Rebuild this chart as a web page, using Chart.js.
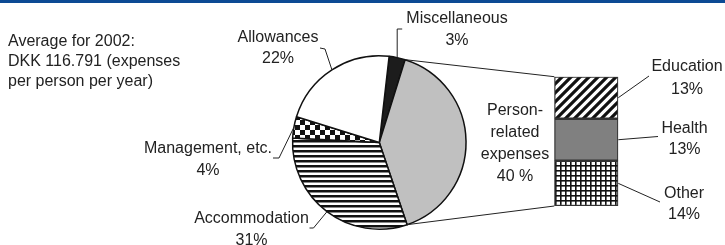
<!DOCTYPE html>
<html><head><meta charset="utf-8">
<script src="https://cdn.jsdelivr.net/npm/chart.js@4.4.1/dist/chart.umd.min.js"></script>
<style>
html,body{margin:0;padding:0;background:#fff;}
#wrap{position:relative;width:725px;height:245px;overflow:hidden;background:#fff;}
#topbar{position:absolute;left:0;top:0;width:725px;height:3px;background:#0c4a94;}
canvas{position:absolute;left:0;top:0;}
</style></head><body>
<div id="wrap">
<canvas id="pie" width="725" height="245"></canvas>
<canvas id="bar" width="725" height="245"></canvas>
<div id="topbar"></div>
</div>
<script>
// ---- data ----
const categories = ['Miscellaneous', 'Person-related expenses', 'Accommodation', 'Management, etc.', 'Allowances'];
const shares = [3, 40, 31, 4, 22];
const subCategories = ['Other', 'Health', 'Education'];
const subShares = [14, 13, 13];
const noteLines = ['Average for 2002:', 'DKK 116.791 (expenses', 'per person per year)'];

// ---- patterns ----
function makePattern(w, h, draw) {
  const c = document.createElement('canvas');
  c.width = w; c.height = h;
  const g = c.getContext('2d');
  g.fillStyle = '#fff'; g.fillRect(0, 0, w, h);
  draw(g, w, h);
  return g.createPattern(c, 'repeat');
}
const patHStripes = makePattern(5, 5, (g, w) => { g.fillStyle = '#111'; g.fillRect(0, 0, w, 2.5); });
const patChecker = makePattern(10, 10, (g) => { g.fillStyle = '#111'; g.fillRect(0, 0, 5, 5); g.fillRect(5, 5, 5, 5); });
const patDiag = makePattern(9, 9, (g, s) => {
  g.strokeStyle = '#111'; g.lineWidth = 3.2; g.lineCap = 'square';
  g.beginPath();
  g.moveTo(-2, s + 2); g.lineTo(s + 2, -2);
  g.moveTo(-2, 2); g.lineTo(2, -2);
  g.moveTo(s - 2, s + 2); g.lineTo(s + 2, s - 2);
  g.stroke();
});
const patGrid = makePattern(5, 5, (g, w, h) => { g.fillStyle = '#111'; g.fillRect(0, 0, w, 1.6); g.fillRect(0, 0, 1.6, h); });

const pieFills = ['#1c1c1c', '#c0c0c0', patHStripes, patChecker, '#ffffff'];
const barFills = [patGrid, '#808080', patDiag];

const FONT = '16px "Liberation Sans", Arial, Helvetica, sans-serif';
const TEXT = '#222';

// ---- pie ----
const pieChart = new Chart(document.getElementById('pie'), {
  type: 'pie',
  data: {
    labels: categories,
    datasets: [{
      data: shares,
      backgroundColor: pieFills,
      borderColor: '#111',
      borderWidth: 1.5,
      hoverOffset: 0
    }]
  },
  options: {
    responsive: false,
    devicePixelRatio: 1,
    animation: false,
    events: [],
    rotation: 6.5,
    layout: { padding: { left: 291.8, right: 258.2, top: 55, bottom: 15 } },
    plugins: { legend: { display: false }, tooltip: { enabled: false } }
  }
});

// ---- label layout (positions only) ----
const pieLabelLayout = [
  { cx: 457, ys: [22.5, 44.5], leader: (p) => [[p.x, 29], [p.x + 5, 29]] },
  { cx: 515, ys: [115, 137, 159, 180.5], leader: null },
  { cx: 251.5, ys: [223, 245], leader: () => [[313.5, 228], [309.5, 228]] },
  { cx: 208, ys: [153, 175], leader: () => [[279, 158], [273, 158]] },
  { cx: 278, ys: [42, 63], leader: () => [[325, 49], [320, 48]] }
];
const barLabelLayout = [
  { cx: 684, ys: [197.5, 219], end: [660, 202] },
  { cx: 684.5, ys: [132.5, 153.5], end: [658, 136.5] },
  { cx: 687, ys: [71, 93.5], end: [649, 76] }
];

function pieLabelLines(i) {
  if (i === 1) return ['Person-', 'related', 'expenses', shares[i] + ' %'];
  return [categories[i], shares[i] + '%'];
}

const overlay = {
  id: 'overlay',
  afterDraw(chart) {
    const ctx = chart.ctx;
    ctx.save();
    ctx.strokeStyle = '#222';
    ctx.lineWidth = 1;
    const arcs = pieChart.getDatasetMeta(0).data;
    const pt = (a, ang) => ({ x: a.x + a.outerRadius * Math.cos(ang), y: a.y + a.outerRadius * Math.sin(ang) });

    // bar geometry from the bar chart elements
    const metas = subCategories.map((_, i) => chart.getDatasetMeta(i).data[0]);
    const top = metas[2], bottom = metas[0];
    const leftX = top.x - top.width / 2;
    const rightX = top.x + top.width / 2;

    // connectors from the pie slice to the bar
    const person = arcs[1];
    const p1 = pt(person, person.startAngle), p2 = pt(person, person.endAngle);
    ctx.beginPath();
    ctx.moveTo(p1.x, p1.y); ctx.lineTo(leftX, top.y);
    ctx.moveTo(p2.x, p2.y); ctx.lineTo(leftX, bottom.base);
    ctx.stroke();

    // pie leaders and labels
    ctx.font = FONT; ctx.fillStyle = TEXT; ctx.textAlign = 'center'; ctx.textBaseline = 'alphabetic';
    arcs.forEach((a, i) => {
      const L = pieLabelLayout[i];
      if (L.leader) {
        const m = pt(a, (a.startAngle + a.endAngle) / 2);
        const pts = L.leader(m);
        ctx.beginPath(); ctx.moveTo(m.x, m.y);
        pts.forEach(q => ctx.lineTo(q[0], q[1]));
        ctx.stroke();
      }
      pieLabelLines(i).forEach((t, k) => ctx.fillText(t, L.cx, L.ys[k]));
    });

    // bar leaders and labels
    metas.forEach((el, i) => {
      const L = barLabelLayout[i];
      const my = (el.y + el.base) / 2;
      ctx.beginPath(); ctx.moveTo(rightX, my); ctx.lineTo(L.end[0], L.end[1]); ctx.stroke();
      ctx.fillText(subCategories[i], L.cx, L.ys[0]);
      ctx.fillText(subShares[i] + '%', L.cx, L.ys[1]);
    });

    // note
    ctx.textAlign = 'left';
    noteLines.forEach((t, k) => ctx.fillText(t, 8, 45.5 + 20 * k));
    ctx.restore();
  }
};

// ---- bar ----
new Chart(document.getElementById('bar'), {
  type: 'bar',
  data: {
    labels: [''],
    datasets: subCategories.map((name, i) => ({
      label: name,
      data: [subShares[i]],
      backgroundColor: barFills[i],
      borderColor: '#333',
      borderWidth: 1.5,
      borderSkipped: false,
      barPercentage: 1,
      categoryPercentage: 1
    }))
  },
  options: {
    responsive: false,
    devicePixelRatio: 1,
    animation: false,
    events: [],
    layout: { padding: { left: 554.3, right: 106.7, top: 76.7, bottom: 39 } },
    scales: {
      x: { display: false, stacked: true },
      y: { display: false, stacked: true, min: 0, max: 40 }
    },
    plugins: { legend: { display: false }, tooltip: { enabled: false } }
  },
  plugins: [overlay]
});
</script>
</body></html>
